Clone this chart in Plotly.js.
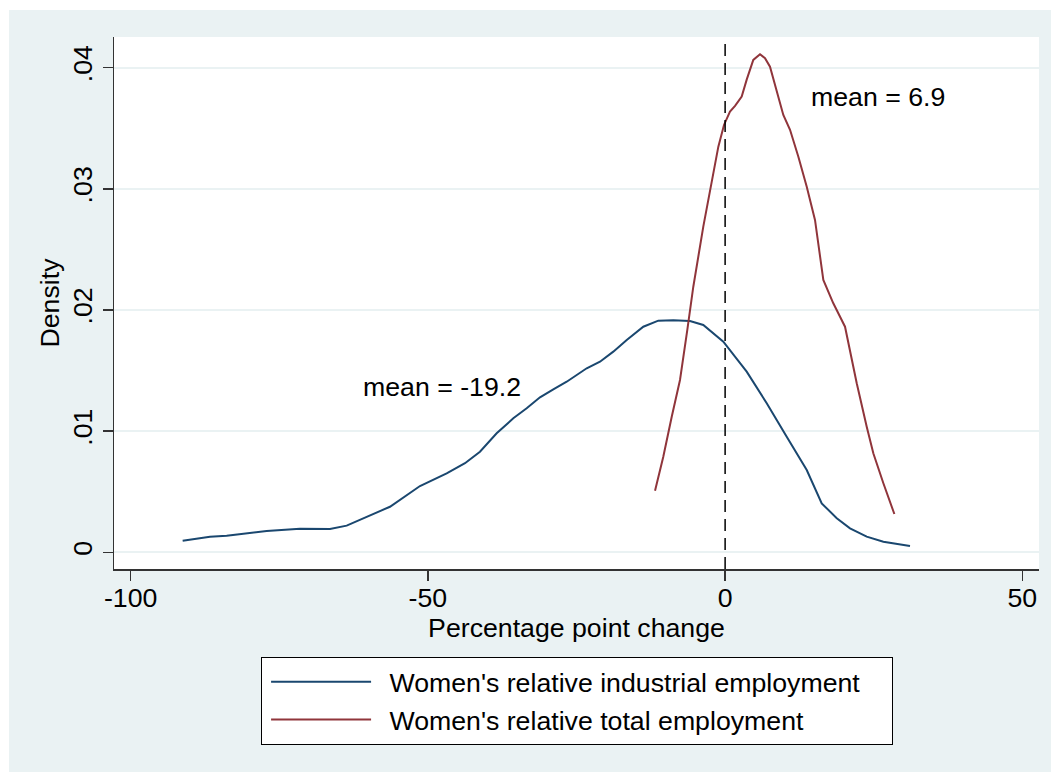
<!DOCTYPE html>
<html>
<head>
<meta charset="utf-8">
<script src="https://cdn.plot.ly/plotly-3.0.1.min.js"></script>
<style>
  html, body { margin: 0; padding: 0; background: #ffffff; width: 1051px; height: 772px; overflow: hidden; }
  #chart { position: absolute; left: 9px; top: 10px; width: 1042px; height: 762px; }
</style>
</head>
<body>
<div id="chart"></div>
<script>
// Women's relative industrial employment (kernel density)
const industrialX = [-91.25, -86.66, -83.85, -77.12, -71.52, -66.47, -63.66, -60.30, -56.38, -51.33,
  -46.84, -43.76, -41.24, -38.43, -35.63, -33.38, -31.14, -28.90, -26.65, -23.28,
  -21.05, -18.81, -16.55, -13.76, -11.24, -8.71, -5.91, -3.67, -0.30, 3.63,
  7.00, 10.36, 13.73, 16.25, 18.78, 21.01, 23.82, 26.62, 29.42, 31.10];
const industrialY = [0.00096, 0.00129, 0.00137, 0.00176, 0.00195, 0.00192, 0.00220, 0.00294, 0.00376, 0.00547,
  0.00652, 0.00735, 0.00830, 0.00982, 0.01106, 0.01189, 0.01279, 0.01345, 0.01408, 0.01519,
  0.01573, 0.01656, 0.01752, 0.01862, 0.01912, 0.01915, 0.01909, 0.01876, 0.01738, 0.01491,
  0.01230, 0.00954, 0.00679, 0.00404, 0.00281, 0.00198, 0.00129, 0.00087, 0.00066, 0.00052];

// Women's relative total employment (kernel density)
const totalX = [-11.79, -10.40, -8.98, -7.59, -6.36, -5.35, -3.67, -2.83, -2.25, -1.14, -0.19,
  0.82, 1.67, 2.79, 3.63, 4.74, 5.87, 6.71, 7.55, 8.68, 9.79,
  10.92, 12.32, 13.73, 15.12, 16.52, 18.20, 20.17, 22.14, 23.82, 24.93,
  26.62, 28.47];
const totalY = [0.00508, 0.00789, 0.01119, 0.01422, 0.01835, 0.02192, 0.02688, 0.02908, 0.03073, 0.03348, 0.03527,
  0.03637, 0.03684, 0.03761, 0.03901, 0.04064, 0.04111, 0.04078, 0.04008, 0.03816, 0.03610,
  0.03487, 0.03265, 0.03018, 0.02743, 0.02248, 0.02055, 0.01862, 0.01395, 0.01037, 0.00817,
  0.00570, 0.00316];

const seriesNames = ["Women's relative industrial employment", "Women's relative total employment"];
const xTicks = [-100, -50, 0, 50];
const xTickLabels = ["-100", "-50", "0", "50"];
const yTicks = [0, 0.01, 0.02, 0.03, 0.04];
const yTickLabels = ["0", ".01", ".02", ".03", ".04"];
const meanLabels = ["mean = -19.2", "mean = 6.9"];
const meanLabelPos = [[-61.2, 0.01364], [14.1, 0.03758]];

const FONT = "'Liberation Sans', Arial, Helvetica, sans-serif";
const FS = 26.7;
const PAD = "\u2002";

const traces = [
  { x: industrialX, y: industrialY, type: 'scatter', mode: 'lines', name: PAD + seriesNames[0] + PAD + PAD,
    line: { color: '#1a476f', width: 2 } },
  { x: totalX, y: totalY, type: 'scatter', mode: 'lines', name: PAD + seriesNames[1],
    line: { color: '#90353b', width: 2 } }
];

const layout = {
  width: 1042, height: 762,
  paper_bgcolor: '#eaf2f3',
  plot_bgcolor: '#ffffff',
  margin: { l: 105, r: 12, t: 27, b: 203 },
  font: { family: FONT, size: FS, color: '#000000' },
  showlegend: true,
  xaxis: {
    range: [-102.8, 52.8],
    tickvals: xTicks, ticktext: xTickLabels,
    ticks: 'outside', ticklen: 10, tickwidth: 1.5, tickcolor: '#333333',
    ticklabelstandoff: -6,
    showline: true, linecolor: '#333333', linewidth: 1.5,
    showgrid: false, zeroline: false,
    tickfont: { family: FONT, size: FS },
    title: { text: 'Percentage point change', font: { family: FONT, size: FS }, standoff: 0 },
    automargin: false
  },
  yaxis: {
    range: [-0.001378, 0.04253],
    tickvals: yTicks, ticktext: yTickLabels, tickangle: -90,
    ticks: 'outside', ticklen: 10, tickwidth: 1.5, tickcolor: '#333333',
    showline: true, linecolor: '#333333', linewidth: 1.5,
    showgrid: true, gridcolor: '#eaf2f3', gridwidth: 2,
    zeroline: false,
    tickfont: { family: FONT, size: FS },
    title: { text: 'Density', font: { family: FONT, size: FS }, standoff: 0 },
    automargin: false
  },
  legend: {
    x: 0.159, y: -0.1654, xanchor: 'left', yanchor: 'top',
    bgcolor: '#ffffff', bordercolor: '#000000', borderwidth: 1,
    font: { family: FONT, size: FS },
    itemwidth: 100,
    indentation: 4,
    traceorder: 'normal'
  },
  shapes: [
    { type: 'line', xref: 'x', yref: 'paper', x0: 0, x1: 0, y0: 0, y1: 1,
      line: { color: '#000000', width: 1.5, dash: '12px,7px' } }
  ],
  annotations: meanLabels.map((t, i) => ({
    text: t, x: meanLabelPos[i][0], y: meanLabelPos[i][1], xref: 'x', yref: 'y',
    xanchor: 'left', yanchor: 'middle', showarrow: false,
    font: { family: FONT, size: FS, color: '#000000' }
  }))
};

Plotly.newPlot('chart', traces, layout, { displayModeBar: false, staticPlot: true });
</script>
</body>
</html>
